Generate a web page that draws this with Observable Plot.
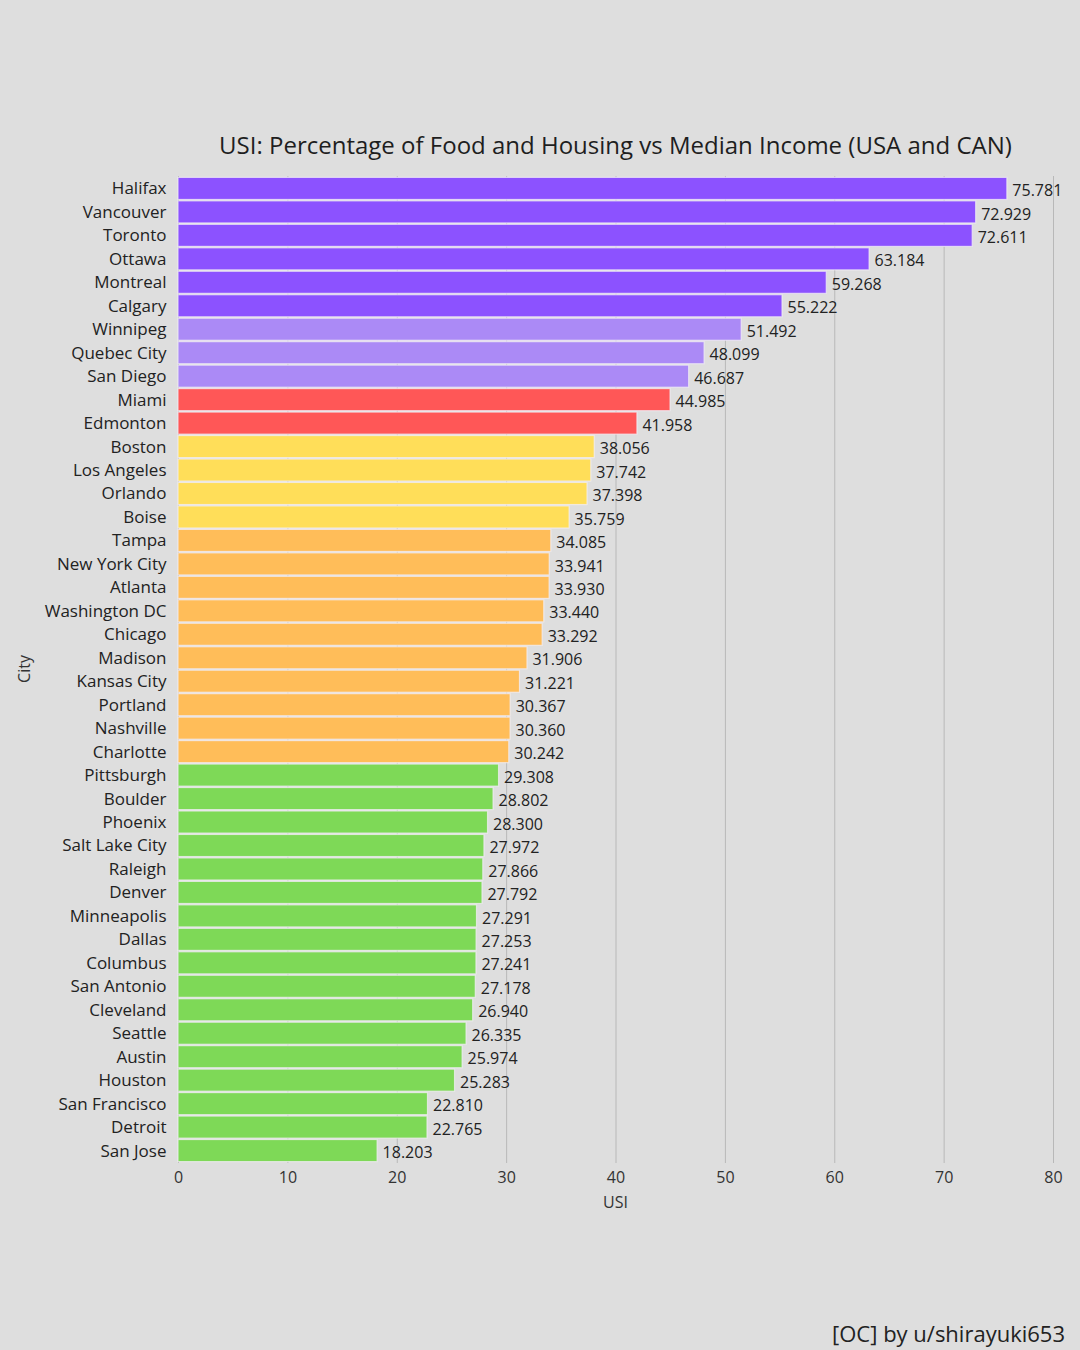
<!DOCTYPE html>
<html>
<head>
<meta charset="utf-8">
<script src="https://cdn.jsdelivr.net/npm/d3@7"></script>
<script src="https://cdn.jsdelivr.net/npm/@observablehq/plot@0.6"></script>
<style>
  html, body { margin:0; padding:0; background:#dedede; }
  #wrap { position:relative; width:1080px; height:1350px; background:#dedede; font-family:"Open Sans", sans-serif; color:#222; overflow:hidden; }
  #title { position:absolute; left:178px; width:875px; top:128px; text-align:center; font-size:24px; color:#1e1e1e; white-space:nowrap; }
  #xlabel { position:absolute; left:178px; width:875px; top:1191px; text-align:center; font-size:16px; color:#333; }
  #ylabel { position:absolute; left:24px; top:669px; transform:translate(-50%,-50%) rotate(-90deg); font-size:16px; color:#333; }
  #caption { position:absolute; right:15px; top:1318px; font-size:22px; color:#222; }
  #chart { position:absolute; left:0; top:0; }
</style>
</head>
<body>
<div id="wrap">
  <div id="chart"></div>
  <div id="title">USI: Percentage of Food and Housing vs Median Income (USA and CAN)</div>
  <div id="xlabel">USI</div>
  <div id="ylabel">City</div>
  <div id="caption">[OC] by u/shirayuki653</div>
</div>
<script>
const cities = ["Halifax","Vancouver","Toronto","Ottawa","Montreal","Calgary","Winnipeg","Quebec City","San Diego","Miami","Edmonton","Boston","Los Angeles","Orlando","Boise","Tampa","New York City","Atlanta","Washington DC","Chicago","Madison","Kansas City","Portland","Nashville","Charlotte","Pittsburgh","Boulder","Phoenix","Salt Lake City","Raleigh","Denver","Minneapolis","Dallas","Columbus","San Antonio","Cleveland","Seattle","Austin","Houston","San Francisco","Detroit","San Jose"];
const usi = [75.781,72.929,72.611,63.184,59.268,55.222,51.492,48.099,46.687,44.985,41.958,38.056,37.742,37.398,35.759,34.085,33.941,33.930,33.440,33.292,31.906,31.221,30.367,30.360,30.242,29.308,28.802,28.300,27.972,27.866,27.792,27.291,27.253,27.241,27.178,26.940,26.335,25.974,25.283,22.810,22.765,18.203];
const tiers = ["A","A","A","A","A","A","B","B","B","C","C","D","D","D","D","E","E","E","E","E","E","E","E","E","E","F","F","F","F","F","F","F","F","F","F","F","F","F","F","F","F","F"];
const tierNames = ["A","B","C","D","E","F"];
const tierColors = ["#8c52ff","#ab8af6","#ff5757","#ffde59","#ffbd59","#7ed957"];
const xTicks = [0,10,20,30,40,50,60,70,80];

const data = cities.map((c,i) => ({city:c, usi:usi[i], tier:tiers[i]}));

const chart = Plot.plot({
  width:1080, height:1350,
  marginTop:176, marginBottom:187, marginLeft:178, marginRight:27,
  style:{background:"transparent", fontFamily:"'Open Sans', sans-serif", fontSize:"16px", color:"#333", overflow:"visible"},
  x:{domain:[0,80]},
  y:{domain:cities, padding:0.06, round:false},
  color:{domain:tierNames, range:tierColors},
  marks:[
    Plot.gridX(xTicks, {stroke:"#b8b8b8", strokeOpacity:1, strokeWidth:1}),
    Plot.barX(data, {x:"usi", y:"city", fill:"tier", stroke:"#f4f0f8", strokeOpacity:0.7, strokeWidth:1.2}),
    Plot.text(data, {x:"usi", y:"city", text:d => d.usi.toFixed(3), textAnchor:"start", dx:5, dy:2, fontSize:16, fill:"#222"}),
    Plot.axisX({ticks:xTicks, tickSize:0, tickPadding:8, label:null, fontSize:16, fill:"#333"}),
    Plot.axisY({tickSize:0, tickPadding:12, label:null, fontSize:17, fill:"#222"})
  ]
});
document.getElementById("chart").append(chart);
</script>
</body>
</html>
